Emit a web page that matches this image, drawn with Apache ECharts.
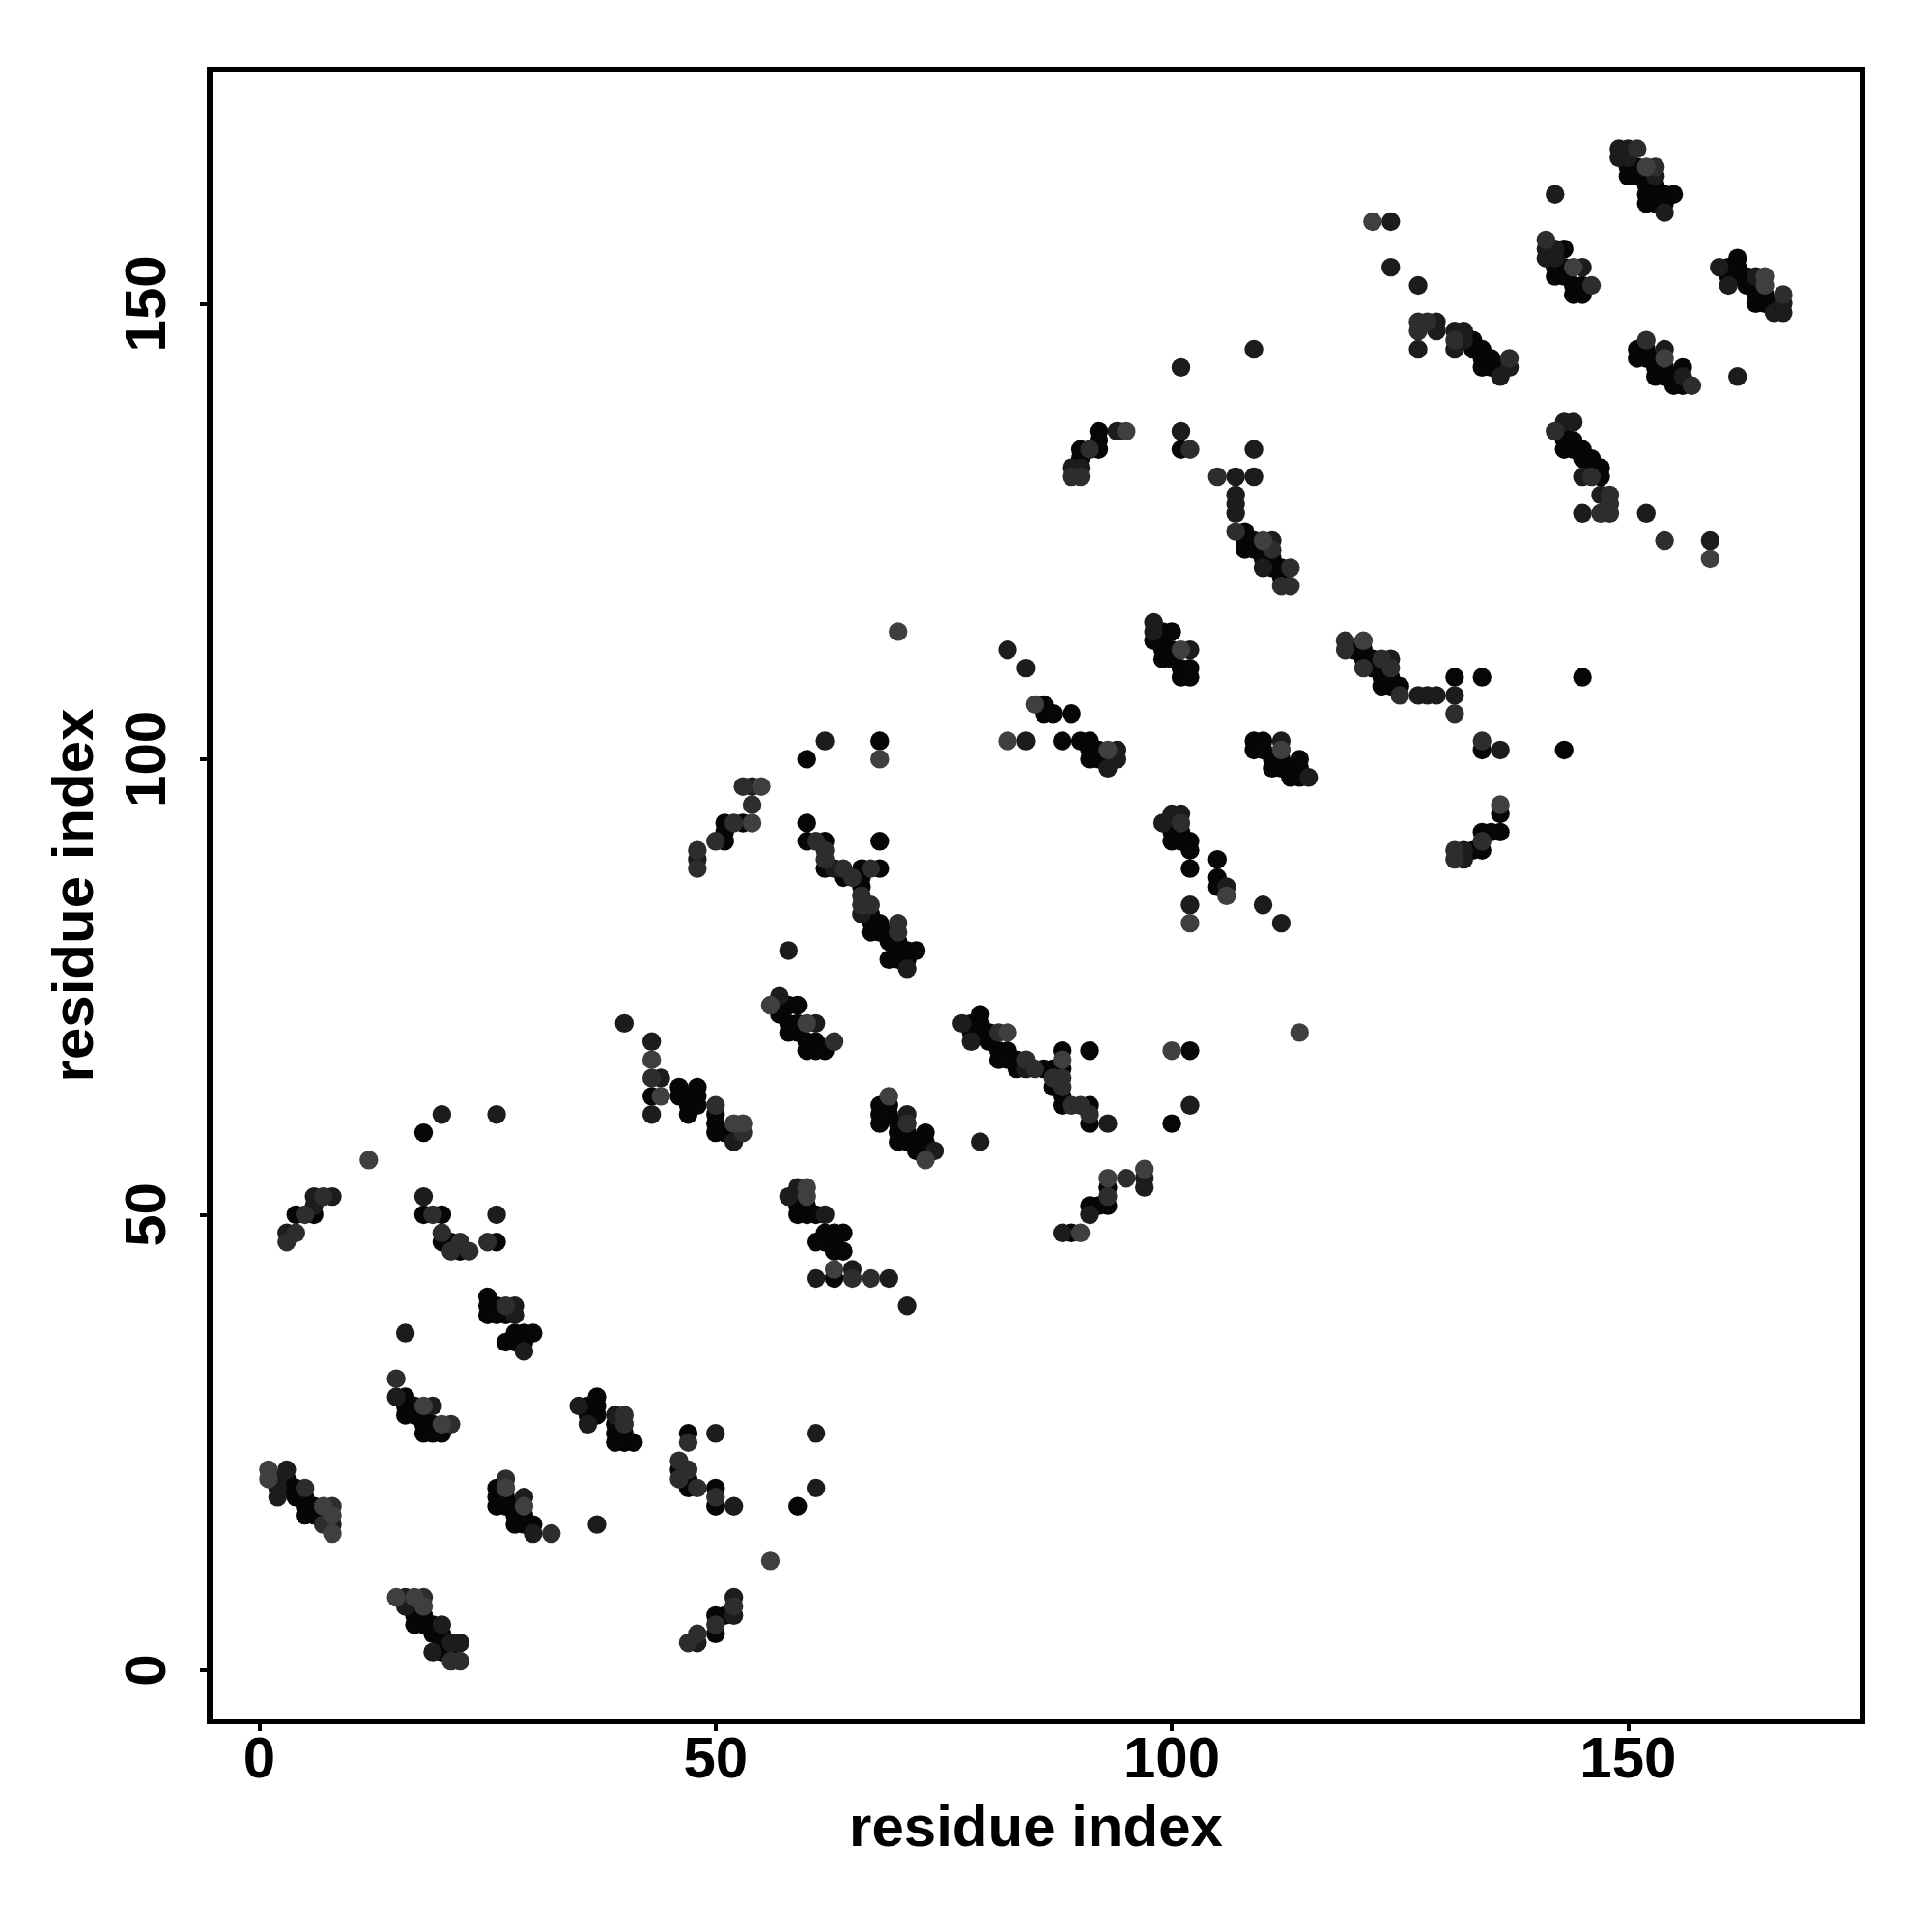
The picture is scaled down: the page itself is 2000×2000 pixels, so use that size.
<!DOCTYPE html>
<html>
<head>
<meta charset="utf-8">
<style>html,body{margin:0;padding:0;background:#fff}#c{width:2000px;height:2000px}</style>
<script src="https://cdn.jsdelivr.net/npm/echarts@6/dist/echarts.min.js"></script>
</head>
<body>
<div id="c"></div>
<script>
const tickValues = [0, 50, 100, 150];
const xName = 'residue index';
const yName = 'residue index';
// contact pairs [i, j], grouped by grey level
const blackPairs = [
 [3,21],[3,20],[4,20],[4,19],[5,19],[5,18],[5,17],[6,18],[6,17],[7,17],
 [16,30],[16,29],[16,28],[17,29],[17,28],[18,28],[18,27],[18,26],[19,27],[19,26],[20,26],
 [37,30],[37,29],[37,28],[36,29],[36,28],[39,27],[39,26],[39,25],[40,26],[40,25],[41,25],
 [26,20],[26,19],[26,18],[27,19],[27,18],[28,18],[28,17],[28,16],[29,17],[29,16],[30,16],
 [17,7],[17,6],[17,5],[18,6],[18,5],[19,5],[19,4],[20,4],[20,3],[20,2],[21,2],
 [18,59],[4,50],[6,50],[18,50],[20,50],[20,47],[21,47],[22,46],[26,47],[25,41],[25,40],[25,39],[26,40],[26,39],[27,39],
 [28,37],[29,37],[30,37],[27,36],[28,36],[29,36],
 [47,26],[46,22],[47,21],[47,20],[50,20],[50,18],[59,18],[50,6],[51,6],[50,4],
 [43,63],[46,64],[46,63],[47,63],[47,62],[47,61],[48,64],[48,63],[48,62],[50,61],[50,60],[50,59],[51,59],[52,59],
 [57,73],[57,72],[58,73],[59,73],[58,71],[58,70],[59,71],[59,70],[60,69],[60,68],[61,69],[61,68],[62,68],
 [68,62],[68,61],[68,60],[69,62],[69,61],[70,60],[70,59],[70,58],[71,59],[71,58],[72,58],[72,57],[73,59],[73,58],[73,57],
 [59,52],[59,51],[59,50],[60,51],[60,50],[61,50],[62,48],[63,48],[64,48],[61,47],[62,47],[63,47],[63,46],[64,46],[63,43],
 [60,100],[68,102],[51,93],[53,93],[51,92],[51,91],[60,93],[60,91],[62,91],[62,88],[64,87],[66,88],[68,88],[68,91],[66,87],[66,86],
 [67,83],[67,82],[67,81],[68,82],[68,81],[69,81],[69,80],[70,80],[70,79],[69,78],[70,78],[71,79],[71,78],[72,79],
 [78,71],[79,72],[79,71],[79,70],[78,70],[80,70],[80,69],[81,68],[81,67],[82,68],[82,67],[83,67],[83,66],[86,66],[87,66],
 [88,68],[88,66],[87,64],[88,63],[88,62],[91,62],[91,60],[91,68],[102,68],[100,60],
 [93,53],[93,51],[91,51],[92,51],[89,48],
 [86,106],[86,105],[87,105],[89,105],[88,102],[90,102],[91,102],[91,101],[91,100],[92,101],[92,100],[93,100],
 [98,113],[99,114],[99,113],[99,112],[99,111],[100,114],[100,112],[100,111],[101,110],[101,109],[102,110],[102,109],
 [109,102],[110,102],[109,101],[110,101],[111,99],[111,100],[112,100],[112,99],[113,98],[113,99],[114,100],[114,99],[114,98],
 [100,93],[100,92],[100,91],[101,92],[101,91],[102,91],[102,90],[102,88],[105,89],[105,87],[105,86],
 [120,112],[121,112],[121,111],[122,111],[122,110],[123,109],[123,108],[124,109],[124,108],[125,108],
 [131,109],[134,109],[134,101],[143,101],[145,109],[136,94],[136,92],[134,92],[135,92],[134,90],[133,90],
 [92,136],[92,135],[92,134],[90,134],[90,133],[101,134],
 [108,125],[108,124],[108,123],[109,124],[109,123],[110,123],[110,122],[111,122],[111,121],[112,121],[112,120],
 [133,146],[133,145],[134,145],[134,144],[134,143],[135,144],[135,143],[136,143],
 [142,154],[142,153],[143,156],[143,154],[143,153],[144,152],[144,151],[145,152],[145,151],
 [143,136],[143,135],[143,134],[144,135],[144,134],[145,134],[145,133],[146,133],[146,132],[147,132],[147,131],
 [150,165],[150,164],[151,165],[151,164],[152,163],[153,163],[152,162],[152,161],[153,162],[153,161],[154,162],[154,161],[155,162],
 [162,155],[161,154],[161,153],[162,154],[162,153],[163,153],[163,152],[164,152],[164,151],[164,150],[165,151],[165,150],[166,150],
 [151,145],[151,144],[152,145],[152,144],[153,144],[153,143],[153,142],[154,143],[154,142],[155,142],[155,141],[156,143],[156,141]
];
const darkPairs = [
 [2,21],[2,20],[2,19],[3,22],[8,16],[15,30],[19,29],[35,29],[36,27],[39,28],[29,19],[30,15],[37,16],
 [16,8],[16,7],[20,5],[19,2],[21,3],[22,3],[20,61],[26,61],[6,52],[8,52],[6,51],[3,48],[26,50],[18,52],[16,37],[28,40],[28,39],[29,35],
 [50,26],[61,26],[52,18],[61,20],[52,8],[52,6],[48,3],
 [40,71],[43,69],[44,65],[43,61],[52,58],[57,74],[61,71],[71,61],[74,57],[79,58],[59,53],[58,52],[62,50],[61,43],[65,44],[69,43],[71,40],
 [62,102],[54,97],[48,89],[63,88],[66,83],[71,77],[58,79],
 [77,71],[78,69],[84,66],[93,60],[102,62],[91,50],[97,54],[97,53],[88,48],
 [82,112],[84,110],[84,102],[93,99],[94,101],[94,100],[98,115],[98,114],[102,112],[112,102],[115,98],[100,94],[101,94],[99,93],[106,86],[102,84],[110,84],[112,82],
 [124,111],[127,107],[128,107],[129,107],[131,107],[136,101],[132,90],[132,89],
 [101,143],[109,145],[89,132],[90,132],[94,136],[101,136],[109,134],[107,131],[109,131],[107,129],[107,128],[107,127],[111,124],[110,121],
 [124,159],[124,154],[127,152],[127,145],[129,148],[129,147],[131,147],[131,145],[132,147],[132,146],[136,142],[137,143],
 [141,156],[141,155],[142,156],[142,155],[145,154],[143,137],[144,137],[145,131],[147,129],[145,127],
 [142,162],[149,167],[150,167],[149,166],[150,166],[153,164],[154,160],[160,154],[161,152],[164,153],[166,149],[167,150],[167,149],
 [154,145],[156,142],[162,142],[152,127],[159,124]
];
const midPairs = [
 [5,20],[7,16],[8,18],[15,32],[21,27],[40,28],[40,27],[27,21],[32,15],[18,8],[21,1],[22,1],
 [7,52],[5,50],[4,48],[3,47],[19,50],[20,48],[21,46],[23,46],[22,47],[25,47],[27,40],
 [47,25],[46,23],[46,21],[47,22],[48,20],[50,19],[50,5],[52,7],[48,4],[47,3],
 [43,65],[50,62],[53,59],[63,69],[71,60],[67,43],[65,43],
 [53,97],[54,95],[52,93],[50,91],[48,90],[48,88],[61,91],[62,90],[62,89],[64,88],[65,87],[67,88],[66,85],[67,84],[66,84],[70,82],[70,81],
 [81,70],[84,67],[85,66],[87,65],[88,65],[88,64],[89,62],[90,62],[91,61],[93,52],[95,54],
 [119,113],[119,112],[101,93],[123,111],[124,110],[121,110],[125,107],[131,105],[134,102],[134,91],[131,90],[131,89],
 [91,134],[89,131],[90,131],[102,134],[105,131],[107,125],[111,123],[113,121],[112,119],[113,119],
 [127,148],[127,147],[128,148],[131,146],[137,144],[141,157],[146,152],[142,136],[146,131],[148,129],[148,128],[148,127],[147,127],
 [151,167],[153,165],[167,151],[152,146],[157,141],[154,124]
];
const lightPairs = [
 [1,22],[1,21],[7,18],[8,17],[8,15],[18,29],[20,27],[27,20],[29,18],[15,8],[17,8],[18,7],[12,56],[56,12],
 [43,67],[44,63],[52,60],[53,60],[56,73],[60,71],[69,63],[73,56],[60,53],[60,52],[63,44],
 [68,100],[55,97],[54,93],[82,70],[88,67],[100,68],[114,70],[93,54],[97,55],[90,48],
 [85,106],[82,102],[93,101],[101,112],[112,101],[106,85],[102,82],[121,113],[70,114],[136,95],
 [95,136],[110,124],[122,159],[144,154],[152,165],[165,153],[165,152],[154,144],[159,122]
];

const xMin = -5.45, xMax = 175.69;
const yMin = -5.62, yMax = 175.7;
const fontFamily = '"Liberation Sans", Arial, sans-serif';
const shades = [
  ['black', blackPairs, '#060606'],
  ['dark', darkPairs, '#1c1c1c'],
  ['mid', midPairs, '#2d2d2d'],
  ['light', lightPairs, '#3f3f3f']
];
const chart = echarts.init(document.getElementById('c'), null, {renderer: 'canvas'});
function axis(name, min, max, rotate, gap, margin) {
  return {
    type: 'value', min, max, name, nameLocation: 'middle', nameGap: gap,
    nameTextStyle: {fontFamily, fontWeight: 'bold', fontSize: 60, color: '#000'},
    splitLine: {show: false},
    axisLine: {show: false, onZero: false},
    axisTick: {show: true, length: 10, customValues: tickValues, lineStyle: {color: '#000', width: 4}},
    axisLabel: {show: true, rotate, margin, customValues: tickValues, fontFamily, fontWeight: 'bold', fontSize: 60, color: '#000',
      hideOverlap: false, showMinLabel: true, showMaxLabel: true}
  };
}
chart.setOption({
  animation: false,
  backgroundColor: '#fff',
  grid: {show: true, left: 217, right: 72, top: 72, bottom: 218, borderColor: '#000', borderWidth: 6, containLabel: false, backgroundColor: 'transparent'},
  xAxis: axis(xName, xMin, xMax, 0, 82, 11),
  yAxis: axis(yName, yMin, yMax, 90, 108, 33),
  series: shades.map(([name, data, color]) => ({
    name, type: 'scatter', data, symbol: 'circle', symbolSize: 19.4, silent: true,
    itemStyle: {color, opacity: 1}
  }))
});
</script>
</body>
</html>
